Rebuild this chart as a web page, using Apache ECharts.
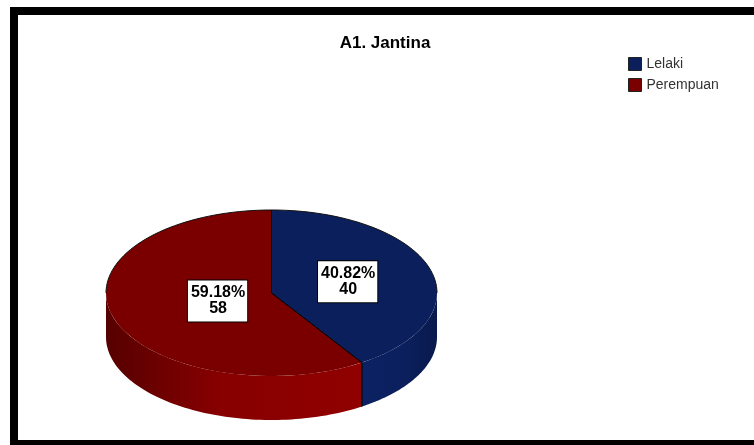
<!DOCTYPE html>
<html><head><meta charset="utf-8">
<script src="https://cdn.jsdelivr.net/npm/echarts@6/dist/echarts.min.js"></script>
<style>html,body{margin:0;padding:0;background:#fff}#c{width:754px;height:445px}</style>
</head><body><div id="c"></div>
<script>
// ---- data ----
const chartTitle = 'A1. Jantina';
const categories = ['Lelaki', 'Perempuan'];
const counts = [40, 58];

// ---- style ----
const topColors = ['#0b1f5c', '#7a0000'];
const wallStops = [
  [[0, '#0c2264'], [0.6, '#0b1f5c'], [1, '#08194c']],
  [[0, '#560000'], [0.45, '#880000'], [1, '#900000']]
];
const labelRadius = [0.48, 0.34];
const DEPTH = 0.53; // wall height in units of the vertical semi-axis

const total = counts.reduce((a, b) => a + b, 0);
const fracs = counts.map(v => v / total);
const starts = [];
let acc = 0;
fracs.forEach(f => { starts.push(acc); acc += f; });
const percentText = fracs.map(f => (f * 100).toFixed(2) + '%');

function topPt(theta, r) { return [r * Math.sin(theta), r * Math.cos(theta)]; }

function arcPts(api, t0, t1, dy, N) {
  const out = [];
  for (let k = 0; k <= N; k++) {
    const t = t0 + (t1 - t0) * k / N;
    const p = topPt(t, 1);
    out.push(api.coord([p[0], p[1] - dy]));
  }
  return out;
}

function makeRender(i) {
  return function (params, api) {
    const TWO = 2 * Math.PI;
    const a0 = starts[i] * TWO;
    const a1 = (starts[i] + fracs[i]) * TWO;
    const N = 80;
    const children = [];
    const lineStyle = { stroke: '#000', lineWidth: 1, fill: null };
    // wall (front half: theta in [PI/2, 3PI/2])
    const w0 = Math.max(a0, Math.PI / 2), w1 = Math.min(a1, 3 * Math.PI / 2);
    if (w1 > w0) {
      const upper = arcPts(api, w0, w1, 0, N);
      const lower = arcPts(api, w0, w1, DEPTH, N);
      children.push({
        type: 'polygon',
        shape: { points: upper.concat(lower.slice().reverse()) },
        style: {
          fill: new echarts.graphic.LinearGradient(0, 0, 1, 0,
            wallStops[i].map(s => ({ offset: s[0], color: s[1] }))),
          stroke: null
        }
      });
      [a0, a1].forEach(t => {
        if (t > Math.PI / 2 + 1e-6 && t < 3 * Math.PI / 2 - 1e-6) {
          const p = topPt(t, 1);
          const c0 = api.coord(p), c1 = api.coord([p[0], p[1] - DEPTH]);
          children.push({ type: 'line', shape: { x1: c0[0], y1: c0[1], x2: c1[0], y2: c1[1] }, style: lineStyle });
        }
      });
    }
    // top face
    const top = [api.coord([0, 0])].concat(arcPts(api, a0, a1, 0, N));
    children.push({ type: 'polygon', shape: { points: top }, style: { fill: topColors[i], stroke: null } });
    // back rim outline (theta in [0, PI/2] and [3PI/2, 2PI])
    [[0, Math.PI / 2], [3 * Math.PI / 2, TWO]].forEach(r => {
      const b0 = Math.max(a0, r[0]), b1 = Math.min(a1, r[1]);
      if (b1 > b0) children.push({ type: 'polyline', shape: { points: arcPts(api, b0, b1, 0, 40) }, style: { stroke: '#111', lineWidth: 1, fill: null } });
    });
    // radial edges
    [a0, a1].forEach(t => {
      const c0 = api.coord([0, 0]), c1 = api.coord(topPt(t, 1));
      children.push({ type: 'line', shape: { x1: c0[0], y1: c0[1], x2: c1[0], y2: c1[1] }, style: lineStyle });
    });
    return { type: 'group', children: children };
  };
}

const series = categories.map((name, i) => ({
  name: name,
  type: 'custom',
  coordinateSystem: 'cartesian2d',
  itemStyle: { color: topColors[i], borderColor: '#222', borderWidth: 1 },
  renderItem: makeRender(i),
  data: [[0, 0, counts[i]]],
  encode: { x: 0, y: 1 },
  silent: true,
  animation: false
}));

// labels placed along each slice's mid angle
series.push({
  type: 'scatter',
  symbolSize: 0,
  silent: true,
  animation: false,
  itemStyle: { opacity: 1 },
  data: categories.map((name, i) => {
    const mid = (starts[i] + fracs[i] / 2) * 2 * Math.PI;
    const p = topPt(mid, labelRadius[i]);
    return { value: p, name: name, lab: percentText[i] + '\n' + counts[i] };
  }),
  label: {
    show: true,
    position: 'inside',
    formatter: p => p.data.lab,
    color: '#000',
    fontFamily: 'Arial, "Liberation Sans", sans-serif',
    fontWeight: 'bold',
    fontSize: 16,
    lineHeight: 16,
    backgroundColor: '#fff',
    borderColor: '#000',
    borderWidth: 1,
    padding: [5, 2, 4, 3],
    align: 'center',
    verticalAlign: 'middle'
  }
});

const chart = echarts.init(document.getElementById('c'), null, { renderer: 'canvas' });
chart.setOption({
  animation: false,
  backgroundColor: '#fff',
  title: {
    text: chartTitle,
    left: 385, top: 35,
    textAlign: 'center',
    padding: 0,
    textStyle: { fontFamily: 'Arial, "Liberation Sans", sans-serif', fontWeight: 'bold', fontSize: 17, color: '#000' }
  },
  legend: {
    data: categories,
    orient: 'vertical',
    left: 628, top: 57,
    padding: 0,
    itemWidth: 13, itemHeight: 13, itemGap: 7,
    icon: 'rect',
    itemStyle: { borderColor: '#222', borderWidth: 1 },
    textStyle: { fontFamily: 'Arial, "Liberation Sans", sans-serif', fontSize: 14, color: '#333' },
    selectedMode: false
  },
  grid: { left: 106, right: 317, top: 210, bottom: 25 },
  xAxis: { type: 'value', min: -1, max: 1, show: false },
  yAxis: { type: 'value', min: -1 - DEPTH, max: 1, show: false },
  graphic: [
    { type: 'rect', shape: { x: 10, y: 7, width: 744, height: 8 }, style: { fill: '#000' }, silent: true },
    { type: 'rect', shape: { x: 10, y: 7, width: 8, height: 438 }, style: { fill: '#000' }, silent: true },
    { type: 'rect', shape: { x: 10, y: 440, width: 744, height: 5 }, style: { fill: '#000' }, silent: true }
  ],
  series: series
});
</script>
</body></html>
